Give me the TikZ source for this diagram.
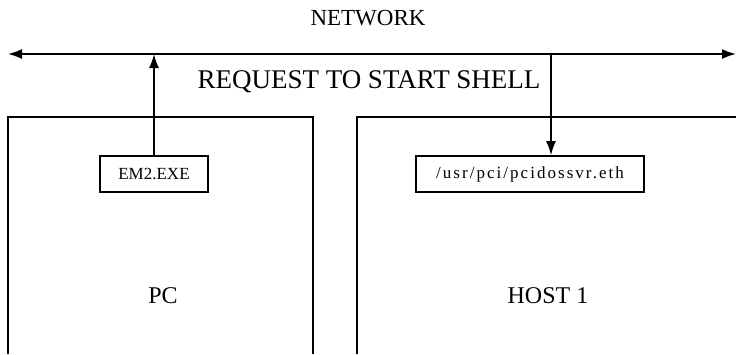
\documentclass[tikz,border=0pt]{standalone}
\usepackage{fontspec}
\setmainfont{Liberation Serif}
\usetikzlibrary{arrows.meta}
\begin{document}
\begin{tikzpicture}[x=1pt,y=-1pt,
  line width=1.6pt,
  tip/.style={-{Latex[length=14pt,width=10pt]}},
  twotip/.style={{Latex[length=14pt,width=10pt]}-{Latex[length=14pt,width=10pt]}},
  progbox/.style={draw,rectangle,minimum height=36pt,inner sep=0pt,font=\fontsize{17}{20}\selectfont},
  bigtext/.style={inner sep=0pt,font=\fontsize{24}{28}\selectfont}]
  \useasboundingbox (0,0) rectangle (736,354);

  % network bus
  \coordinate (netL) at (8,54);
  \coordinate (netR) at (736,54);
  \draw[twotip] (netL) -- (netR);
  \node[bigtext,font=\fontsize{23}{26}\selectfont] (net) at (368,18) {NETWORK};
  \node[bigtext,font=\fontsize{27}{30}\selectfont] (req) at (369,82) {REQUEST TO START SHELL};

  % machines (open at the bottom)
  \draw (8,354) -- (8,117) -- (313,117) -- (313,354);
  \draw (357,354) -- (357,117) -- (736,117);

  % programs
  \node[progbox,minimum width=108pt] (em) at (154,174) {EM2.EXE};
  \node[progbox,minimum width=228pt] (srv) at (530,174) {\addfontfeature{LetterSpace=12}/usr/pci/pcidossvr.eth};

  \coordinate (upT) at (154,54);
  \coordinate (dnT) at (551,54);
  \draw[tip] (em.north) -- (upT);
  \draw[tip] (dnT) -- (dnT |- srv.north);

  \node[bigtext] (pc) at (163,296) {PC};
  \node[bigtext] (host) at (548,296) {HOST 1};
\end{tikzpicture}
\end{document}
